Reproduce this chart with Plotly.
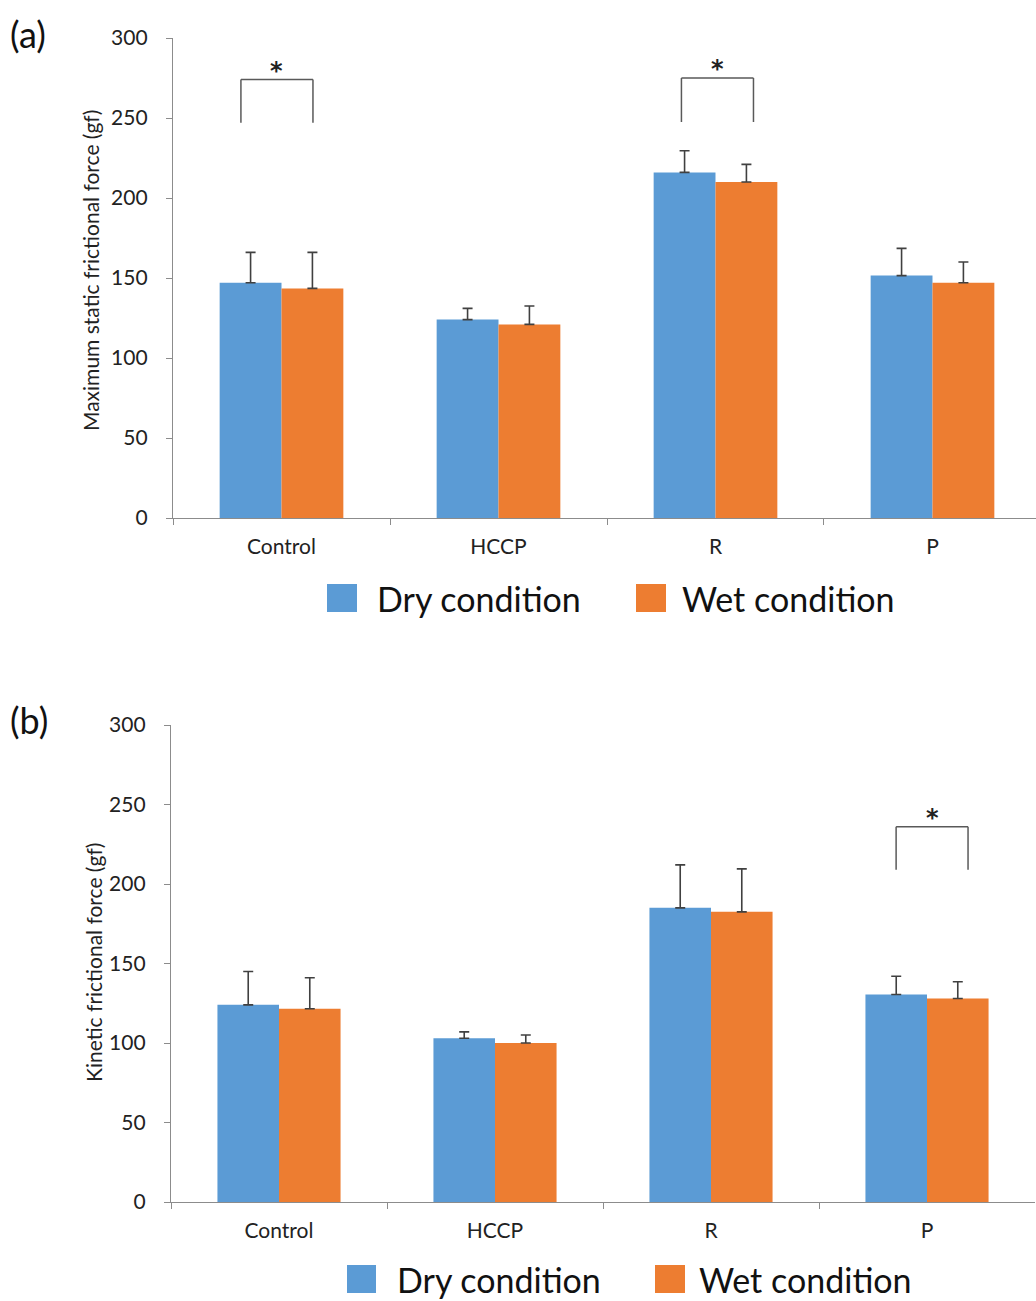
import plotly.graph_objects as go

categories = ["Control", "HCCP", "R", "P"]
series_names = ["Dry condition", "Wet condition"]

static_dry = [147, 124, 216, 151.5]
static_dry_err = [19, 7, 13.5, 17]
static_wet = [143.5, 121, 210, 147]
static_wet_err = [22.5, 11.5, 11, 13]

kinetic_dry = [124, 103, 185, 130.5]
kinetic_dry_err = [21, 4, 27, 11.5]
kinetic_wet = [121.5, 100, 182.5, 128]
kinetic_wet_err = [19.5, 5, 27, 10.5]

y_ticks = [0, 50, 100, 150, 200, 250, 300]

# significance brackets: (panel, category, left offset, right offset, leg bottom, top)
brackets = [
    (1, "Control", -0.187, 0.145, 247, 274),
    (1, "R", -0.157, 0.175, 247.5, 275),
    (2, "P", -0.143, 0.19, 209, 236),
]

BLUE = "#5B9BD5"
ORANGE = "#ED7D31"
AXIS = "#8C8C8C"
FONT = "Lato"
W, H = 1036, 1301


def px(x):
    return x / W


def py(y):
    return (H - y) / H


fig = go.Figure()

panels = [
    (1, static_dry, static_dry_err, static_wet, static_wet_err),
    (2, kinetic_dry, kinetic_dry_err, kinetic_wet, kinetic_wet_err),
]
for idx, dry, dry_e, wet, wet_e in panels:
    xa = "x" if idx == 1 else "x2"
    ya = "y" if idx == 1 else "y2"
    for name, vals, errs, col in [(series_names[0], dry, dry_e, BLUE),
                                  (series_names[1], wet, wet_e, ORANGE)]:
        fig.add_trace(go.Bar(
            x=categories, y=vals, name=name, marker_color=col,
            marker_line_width=0, showlegend=False,
            error_y=dict(type="data", array=errs, arrayminus=[0] * len(errs),
                         symmetric=False, color="#404040", thickness=1.6, width=5),
            xaxis=xa, yaxis=ya,
        ))

axis_common = dict(showline=True, linecolor=AXIS, linewidth=1.3, showgrid=False,
                   zeroline=False, ticks="outside", tickcolor=AXIS, ticklen=6,
                   automargin=False,
                   tickfont=dict(family=FONT, size=21, color="#222"))

fig.update_layout(
    width=W, height=H, margin=dict(l=0, r=0, t=0, b=0, autoexpand=False),
    plot_bgcolor="white", paper_bgcolor="white",
    barmode="group", bargap=0.43, bargroupgap=0,
    font=dict(family=FONT), showlegend=False,
    xaxis=dict(domain=[px(173), 1.0], range=[-0.5, 3.477], anchor="y",
               tickson="boundaries", ticklabelstandoff=10, **axis_common),
    yaxis=dict(domain=[py(518), py(38)], range=[0, 300], tickvals=y_ticks,
               anchor="x", ticklabelstandoff=14, **axis_common),
    xaxis2=dict(domain=[px(171), px(1035)], range=[-0.5, 3.5], anchor="y2",
                tickson="boundaries", ticklabelstandoff=10, **axis_common),
    yaxis2=dict(domain=[py(1202), py(725)], range=[0, 300], tickvals=y_ticks,
                anchor="x2", ticklabelstandoff=14, **axis_common),
)

shapes = []
annotations = []
for panel, cat, lo, ro, yb, yt in brackets:
    xr = "x" if panel == 1 else "x2"
    yr = "y" if panel == 1 else "y2"
    c = categories.index(cat)
    xl, xrr = c + lo, c + ro
    line = dict(color="#595959", width=1.5)
    shapes.append(dict(type="line", xref=xr, yref=yr, x0=xl, x1=xl, y0=yb, y1=yt, line=line))
    shapes.append(dict(type="line", xref=xr, yref=yr, x0=xl, x1=xrr, y0=yt, y1=yt, line=line))
    shapes.append(dict(type="line", xref=xr, yref=yr, x0=xrr, x1=xrr, y0=yb, y1=yt, line=line))
    annotations.append(dict(xref=xr, yref=yr, x=(xl + xrr) / 2, y=yt, text="<b>*</b>",
                            showarrow=False, yanchor="middle", yshift=9,
                            font=dict(family="DejaVu Sans", size=24, color="#222")))

# manual legends (large square keys)
legend_rows = [
    (598, [(327, 357, 375, series_names[0], BLUE), (636, 666, 680, series_names[1], ORANGE)]),
    (1279, [(347, 376, 395, series_names[0], BLUE), (655, 685, 697, series_names[1], ORANGE)]),
]
for yc, items in legend_rows:
    for x0, x1, tx, label, col in items:
        shapes.append(dict(type="rect", xref="paper", yref="paper",
                           x0=px(x0), x1=px(x1), y0=py(yc + 14), y1=py(yc - 14),
                           fillcolor=col, line_width=0))
        annotations.append(dict(xref="paper", yref="paper", x=px(tx), y=py(yc),
                                xanchor="left", yanchor="middle", text=label,
                                showarrow=False,
                                font=dict(family=FONT, size=34, color="#111")))

# panel labels
annotations.append(dict(xref="paper", yref="paper", x=px(8), y=py(34), text="(a)",
                        xanchor="left", yanchor="middle", showarrow=False,
                        font=dict(family=FONT, size=36, color="#111")))
annotations.append(dict(xref="paper", yref="paper", x=px(8), y=py(720), text="(b)",
                        xanchor="left", yanchor="middle", showarrow=False,
                        font=dict(family=FONT, size=36, color="#111")))

# y-axis titles
annotations.append(dict(xref="paper", yref="paper", x=px(90), y=py(271),
                        text="Maximum static frictional force (gf)", textangle=-90,
                        xanchor="center", yanchor="middle", showarrow=False,
                        font=dict(family=FONT, size=21, color="#222")))
annotations.append(dict(xref="paper", yref="paper", x=px(93), y=py(963),
                        text="Kinetic frictional force (gf)", textangle=-90,
                        xanchor="center", yanchor="middle", showarrow=False,
                        font=dict(family=FONT, size=21, color="#222")))

fig.update_layout(shapes=shapes, annotations=annotations)
fig.write_html(
    "out.html",
    config={"displayModeBar": False},
    post_script="document.body.style.margin='0';document.body.style.padding='0';"
                "document.documentElement.style.overflow='hidden';",
)
